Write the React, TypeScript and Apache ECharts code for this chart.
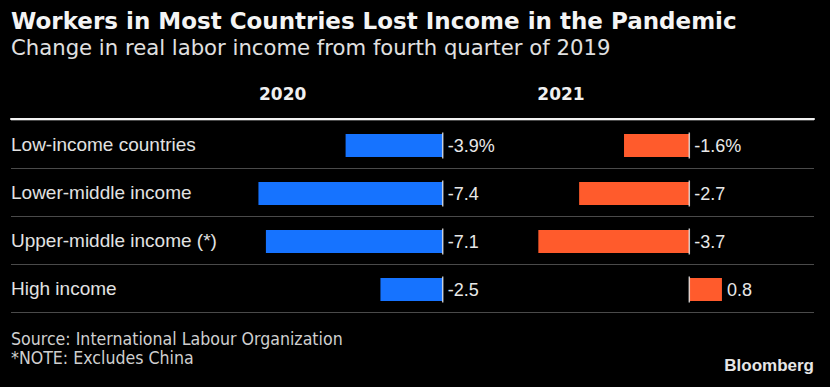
import React, { useEffect, useRef } from "react";
import * as echarts from "echarts";

const categories = [
  "Low-income countries",
  "Lower-middle income",
  "Upper-middle income (*)",
  "High income",
];
const values2020 = [-3.9, -7.4, -7.1, -2.5];
const values2021 = [-1.6, -2.7, -3.7, 0.8];
const years = ["2020", "2021"];

const titleText = "Workers in Most Countries Lost Income in the Pandemic";
const subtitleText = "Change in real labor income from fourth quarter of 2019";
const sourceText = "Source: International Labour Organization";
const noteText = "*NOTE: Excludes China";
const brandText = "Bloomberg";

const BLUE = "#1673ff";
const ORANGE = "#ff5b2c";

export default function App() {
  const ref = useRef<HTMLDivElement>(null);

  useEffect(() => {
    document.body.style.margin = "0";
    document.body.style.background = "#000";
    const chart = echarts.init(ref.current!, undefined, { renderer: "svg" });

    const labelFmt = (p: any) =>
      p.dataIndex === 0 ? `${p.value}%` : `${p.value}`;

    const barLabel = {
      show: true,
      position: "right" as const,
      distance: 5,
      color: "#e8e8e8",
      fontSize: 18,
      fontFamily: "Liberation Sans",
      formatter: labelFmt,
    };

    const zeroMarks = categories.map((c) => [0, c]);

    const option: any = {
      animation: false,
      backgroundColor: "#000",
      grid: [
        { left: 243.5, width: 199.2, top: 121.5, height: 192 },
        { left: 526.1, width: 204, top: 121.5, height: 192 },
        { left: 11, right: 16, top: 120, height: 192 },
      ],
      xAxis: [
        { gridIndex: 0, type: "value", min: -8, max: 0, show: false },
        { gridIndex: 1, type: "value", min: -4, max: 1, show: false },
        {
          gridIndex: 2,
          type: "value",
          min: 0,
          max: 1,
          position: "top",
          offset: 1.5,
          axisLine: { show: true, lineStyle: { color: "#f2f2f2", width: 2 } },
          axisTick: { show: false },
          axisLabel: { show: false },
          splitLine: { show: false },
        },
      ],
      yAxis: [
        { gridIndex: 0, type: "category", data: categories, inverse: true, show: false },
        { gridIndex: 1, type: "category", data: categories, inverse: true, show: false },
        {
          gridIndex: 2,
          type: "category",
          data: categories,
          inverse: true,
          axisLine: { show: false },
          axisTick: { show: false },
          axisLabel: {
            inside: true,
            margin: 0,
            color: "#e2e2e2",
            fontSize: 19,
            fontFamily: "Liberation Sans",
          },
          splitLine: { show: true, lineStyle: { color: "#4a4a4a", width: 1 } },
        },
      ],
      series: [
        {
          type: "bar",
          name: years[0],
          xAxisIndex: 0,
          yAxisIndex: 0,
          data: values2020,
          barWidth: 23,
          itemStyle: { color: BLUE },
          label: barLabel,
        },
        {
          type: "bar",
          name: years[1],
          xAxisIndex: 1,
          yAxisIndex: 1,
          data: values2021,
          barWidth: 23,
          itemStyle: { color: ORANGE },
          label: barLabel,
        },
        {
          type: "scatter",
          xAxisIndex: 0,
          yAxisIndex: 0,
          data: zeroMarks,
          symbol: "rect",
          symbolSize: [1.5, 26],
          itemStyle: { color: "#f0f0f0" },
          z: 5,
          silent: true,
        },
        {
          type: "scatter",
          xAxisIndex: 1,
          yAxisIndex: 1,
          data: zeroMarks,
          symbol: "rect",
          symbolSize: [1.5, 26],
          itemStyle: { color: "#f0f0f0" },
          z: 5,
          silent: true,
        },
      ],
      graphic: [
        {
          type: "text",
          x: 11,
          y: 20.5,
          style: {
            text: titleText,
            font: "bold 23px 'DejaVu Sans'",
            fill: "#f4f4f4",
            verticalAlign: "middle",
          },
        },
        {
          type: "text",
          x: 11,
          y: 47,
          style: {
            text: subtitleText,
            font: "21.2px 'DejaVu Sans'",
            fill: "#e0e0e0",
            verticalAlign: "middle",
          },
        },
        {
          type: "text",
          x: 282.7,
          y: 94,
          style: {
            text: years[0],
            font: "bold 17px 'DejaVu Sans'",
            fill: "#f0f0f0",
            align: "center",
            verticalAlign: "middle",
          },
        },
        {
          type: "text",
          x: 561,
          y: 94,
          style: {
            text: years[1],
            font: "bold 17px 'DejaVu Sans'",
            fill: "#f0f0f0",
            align: "center",
            verticalAlign: "middle",
          },
        },
        {
          type: "text",
          x: 11,
          y: 339,
          style: {
            text: sourceText,
            font: "17.6px 'DejaVu Sans Condensed'",
            fill: "#cfcfcf",
            verticalAlign: "middle",
          },
        },
        {
          type: "text",
          x: 11,
          y: 358,
          style: {
            text: noteText,
            font: "17.6px 'DejaVu Sans Condensed'",
            fill: "#cfcfcf",
            verticalAlign: "middle",
          },
        },
        {
          type: "text",
          x: 814,
          y: 365.5,
          style: {
            text: brandText,
            font: "bold 17px 'Liberation Sans'",
            fill: "#e6e6e6",
            align: "right",
            verticalAlign: "middle",
          },
        },
      ],
    };

    chart.setOption(option);
    return () => chart.dispose();
  }, []);

  return <div ref={ref} style={{ width: 830, height: 387, background: "#000" }} />;
}
